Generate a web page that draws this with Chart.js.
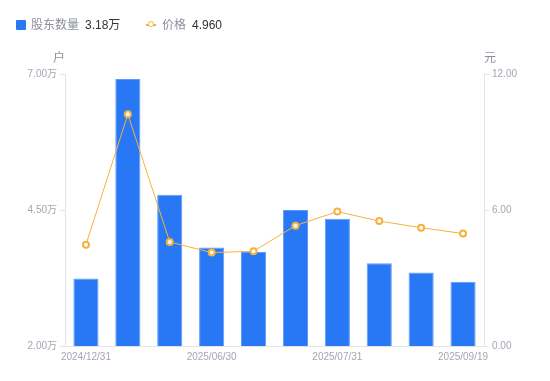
<!DOCTYPE html>
<html>
<head>
<meta charset="utf-8">
<script src="https://cdn.jsdelivr.net/npm/chart.js@4/dist/chart.umd.min.js"></script>
<style>
  html, body { margin: 0; padding: 0; background: #fff; }
  #wrap { position: relative; width: 550px; height: 381px; font-family: 'Liberation Sans', 'Noto Sans CJK SC', sans-serif; }
  #chart { position: absolute; left: 0; top: 0; }
  .lg { position: absolute; top: 17px; font-size: 12px; line-height: 16px; white-space: nowrap; }
  .lg .name { color: #8c909c; }
  .lg .val { color: #333; margin-left: 6px; }
  .sq { position: absolute; top: 20px; left: 16px; width: 10px; height: 10px; background: #2878f5; border-radius: 1px; }
  .ln { position: absolute; top: 24px; left: 146px; width: 10px; height: 1.5px; background: #f7b13c; }
  .dot { position: absolute; top: 21px; left: 148px; width: 3.5px; height: 3.5px; border: 1.6px solid #f7b13c; border-radius: 50%; background: #fff; }
</style>
</head>
<body>
<div id="wrap">
  <canvas id="chart" width="550" height="381"></canvas>
  <div class="sq"></div>
  <div class="lg" style="left:31px"><span class="name">股东数量</span><span class="val" id="v1"></span></div>
  <div class="ln"></div><div class="dot"></div>
  <div class="lg" style="left:162px"><span class="name">价格</span><span class="val" id="v2"></span></div>
</div>
<script>
// report dates (only some shown on the axis)
const dates = ['2024/12/31', '2025/03/10', '2025/03/31', '2025/06/30', '2025/07/10',
               '2025/07/20', '2025/07/31', '2025/08/20', '2025/08/31', '2025/09/19']
const shownDates = ['2024/12/31', '2025/06/30', '2025/07/31', '2025/09/19']

// shareholders, in 万 households
const holders = [3.24, 6.91, 4.78, 3.81, 3.73, 4.50, 4.34, 3.52, 3.35, 3.18]
// price, in 元
const prices = [4.47, 10.22, 4.59, 4.12, 4.18, 5.31, 5.93, 5.51, 5.22, 4.96]

const holderTicks = [2, 4.5, 7]
const priceTicks = [0, 6, 12]

const tickFont = { family: "'Liberation Sans', 'Noto Sans CJK SC', sans-serif", size: 10 }
const tickColor = '#a3a6b2'
const lineGray = '#e3e4e8'

document.getElementById('v1').textContent = holders[holders.length - 1].toFixed(2) + '万'
document.getElementById('v2').textContent = prices[prices.length - 1].toFixed(3)

// unit labels above each y axis
const unitTitles = {
    id: 'unitTitles',
    afterDraw(chart) {
        const { ctx, chartArea } = chart
        ctx.save()
        ctx.font = "12px 'Noto Sans CJK SC', sans-serif"
        ctx.fillStyle = '#8c909c'
        ctx.textAlign = 'center'
        ctx.textBaseline = 'middle'
        ctx.fillText('户', chartArea.left - 6, chartArea.top - 17)
        ctx.fillText('元', chartArea.right + 6, chartArea.top - 17)
        ctx.restore()
    }
}

new Chart(document.getElementById('chart').getContext('2d'), {
    data: {
        labels: dates,
        datasets: [
            {
                type: 'line',
                label: '价格',
                data: prices,
                yAxisID: 'yPrice',
                borderColor: '#f7b13c',
                borderWidth: 1,
                pointRadius: 3,
                pointBorderWidth: 2,
                pointBackgroundColor: '#fff',
                pointBorderColor: '#f7b13c',
                tension: 0,
                order: 0,
            },
            {
                type: 'bar',
                label: '股东数量',
                data: holders,
                yAxisID: 'yHolders',
                backgroundColor: '#2878f5',
                borderColor: '#5d9af8',
                borderWidth: 1,
                barPercentage: 0.6,
                categoryPercentage: 1.0,
                order: 1,
            },
        ],
    },
    options: {
        responsive: false,
        animation: false,
        layout: { padding: { top: 74, bottom: 0, left: 0, right: 0 } },
        plugins: { legend: { display: false }, tooltip: { enabled: false } },
        scales: {
            x: {
                grid: { display: false, drawTicks: false },
                border: { display: true, color: lineGray },
                ticks: {
                    autoSkip: false,
                    maxRotation: 0,
                    padding: 5,
                    font: tickFont,
                    color: tickColor,
                    callback: (v, i) => shownDates.includes(dates[i]) ? dates[i] : '',
                },
                afterFit: s => { s.height = 35 },
            },
            yHolders: {
                position: 'left',
                min: holderTicks[0],
                max: holderTicks[holderTicks.length - 1],
                afterBuildTicks: s => { s.ticks = holderTicks.map(v => ({ value: v })) },
                grid: { drawOnChartArea: false, drawTicks: true, tickLength: 5, color: lineGray },
                border: { display: true, color: lineGray },
                ticks: { padding: 3, font: tickFont, color: tickColor, callback: v => v.toFixed(2) + '万' },
                afterFit: s => { s.width = 65 },
            },
            yPrice: {
                position: 'right',
                min: priceTicks[0],
                max: priceTicks[priceTicks.length - 1],
                afterBuildTicks: s => { s.ticks = priceTicks.map(v => ({ value: v })) },
                grid: { drawOnChartArea: false, drawTicks: true, tickLength: 5, color: lineGray },
                border: { display: true, color: lineGray },
                ticks: { padding: 3, font: tickFont, color: tickColor, callback: v => v.toFixed(2) },
                afterFit: s => { s.width = 66 },
            },
        },
    },
    plugins: [unitTitles],
})
</script>
</body>
</html>
